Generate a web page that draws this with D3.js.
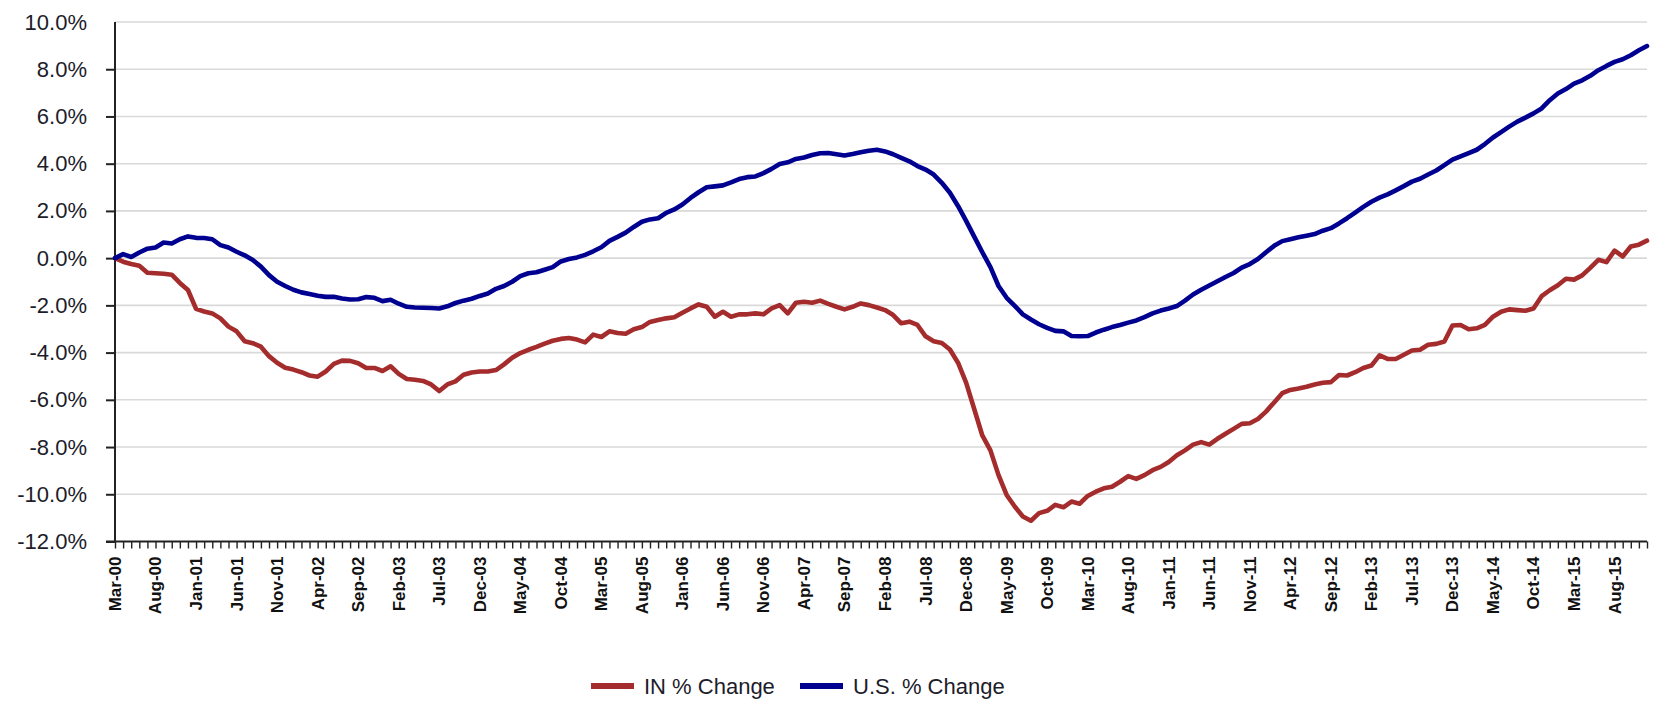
<!DOCTYPE html>
<html>
<head>
<meta charset="utf-8">
<script src="https://cdn.jsdelivr.net/npm/d3@7"></script>
<style>
  html, body { margin: 0; padding: 0; background: #fff; }
  svg { display: block; }
  text { font-family: "Liberation Sans", Arial, sans-serif; }
</style>
</head>
<body>
<svg id="chart" width="1656" height="703"></svg>
<script>
// ---- Data ----
const startMonth = new Date(2000, 2, 1);   // Mar-00
const endMonth = new Date(2016, 0, 1);     // exclusive -> last point Dec-15
const months = d3.timeMonth.range(startMonth, endMonth);

const tickLabels = ["Mar-00","Aug-00","Jan-01","Jun-01","Nov-01","Apr-02","Sep-02","Feb-03","Jul-03","Dec-03",
  "May-04","Oct-04","Mar-05","Aug-05","Jan-06","Jun-06","Nov-06","Apr-07","Sep-07","Feb-08",
  "Jul-08","Dec-08","May-09","Oct-09","Mar-10","Aug-10","Jan-11","Jun-11","Nov-11","Apr-12",
  "Sep-12","Feb-13","Jul-13","Dec-13","May-14","Oct-14","Mar-15","Aug-15"];

const yTicks = [-12, -10, -8, -6, -4, -2, 0, 2, 4, 6, 8, 10];

const seriesNames = ["IN % Change", "U.S. % Change"];

const inChange = [
  0.00,-0.15,-0.25,-0.32,-0.62,-0.64,-0.66,-0.70,-1.05,-1.35,
  -2.15,-2.26,-2.34,-2.55,-2.90,-3.10,-3.52,-3.60,-3.75,-4.15,
  -4.43,-4.64,-4.72,-4.83,-4.97,-5.02,-4.80,-4.48,-4.34,-4.35,
  -4.45,-4.65,-4.65,-4.78,-4.58,-4.90,-5.12,-5.15,-5.20,-5.35,
  -5.63,-5.35,-5.22,-4.94,-4.84,-4.80,-4.80,-4.74,-4.50,-4.22,
  -4.02,-3.88,-3.76,-3.62,-3.50,-3.42,-3.38,-3.45,-3.57,-3.24,
  -3.34,-3.10,-3.17,-3.20,-3.01,-2.92,-2.70,-2.62,-2.55,-2.50,
  -2.31,-2.13,-1.96,-2.06,-2.48,-2.27,-2.48,-2.38,-2.38,-2.34,
  -2.38,-2.13,-1.99,-2.34,-1.89,-1.85,-1.89,-1.80,-1.94,-2.06,
  -2.17,-2.06,-1.92,-1.99,-2.09,-2.20,-2.41,-2.76,-2.69,-2.83,
  -3.31,-3.52,-3.59,-3.87,-4.43,-5.27,-6.39,-7.51,-8.14,-9.19,
  -10.03,-10.52,-10.94,-11.12,-10.80,-10.70,-10.45,-10.55,-10.31,-10.40,
  -10.07,-9.89,-9.75,-9.68,-9.47,-9.23,-9.35,-9.19,-8.98,-8.84,
  -8.63,-8.35,-8.14,-7.90,-7.79,-7.90,-7.65,-7.44,-7.23,-7.02,
  -6.99,-6.81,-6.50,-6.11,-5.72,-5.58,-5.52,-5.45,-5.35,-5.28,
  -5.25,-4.95,-4.97,-4.83,-4.65,-4.55,-4.12,-4.27,-4.27,-4.09,
  -3.91,-3.88,-3.67,-3.63,-3.53,-2.85,-2.83,-3.01,-2.97,-2.83,
  -2.48,-2.27,-2.17,-2.20,-2.23,-2.13,-1.61,-1.36,-1.15,-0.87,
  -0.91,-0.73,-0.41,-0.07,-0.17,0.32,0.07,0.49,0.57,0.74
];

const usChange = [
  0.00,0.17,0.05,0.24,0.40,0.45,0.66,0.62,0.80,0.92,
  0.86,0.85,0.80,0.55,0.45,0.27,0.12,-0.08,-0.36,-0.72,
  -1.00,-1.18,-1.34,-1.45,-1.52,-1.59,-1.64,-1.64,-1.71,-1.75,
  -1.74,-1.65,-1.68,-1.82,-1.76,-1.93,-2.06,-2.09,-2.10,-2.11,
  -2.13,-2.04,-1.90,-1.80,-1.72,-1.60,-1.50,-1.30,-1.18,-1.00,
  -0.76,-0.64,-0.60,-0.49,-0.38,-0.14,-0.04,0.03,0.14,0.29,
  0.46,0.73,0.90,1.08,1.32,1.54,1.64,1.69,1.92,2.06,
  2.27,2.55,2.79,3.00,3.04,3.08,3.21,3.35,3.43,3.46,
  3.60,3.78,3.99,4.06,4.20,4.26,4.37,4.44,4.45,4.40,
  4.35,4.41,4.48,4.55,4.59,4.52,4.40,4.25,4.10,3.90,
  3.75,3.54,3.19,2.77,2.21,1.58,0.91,0.25,-0.38,-1.18,
  -1.68,-2.02,-2.38,-2.60,-2.80,-2.95,-3.08,-3.10,-3.30,-3.31,
  -3.30,-3.15,-3.03,-2.92,-2.83,-2.73,-2.64,-2.50,-2.34,-2.22,
  -2.13,-2.03,-1.80,-1.54,-1.34,-1.16,-0.98,-0.80,-0.63,-0.40,
  -0.25,-0.04,0.25,0.52,0.72,0.80,0.88,0.95,1.02,1.16,
  1.27,1.47,1.69,1.93,2.17,2.39,2.56,2.70,2.87,3.05,
  3.24,3.36,3.54,3.71,3.94,4.17,4.31,4.45,4.59,4.83,
  5.11,5.34,5.57,5.78,5.95,6.13,6.34,6.69,6.97,7.16,
  7.39,7.53,7.72,7.96,8.14,8.31,8.42,8.59,8.80,8.98
];

const colors = ["#a52c2c", "#000090"];

// ---- Layout ----
const svg = d3.select("#chart");
const plot = { left: 115, right: 1647, top: 22, bottom: 541.5 };

const x = d3.scaleLinear().domain([0, months.length - 1]).range([plot.left, plot.right]);
const y = d3.scaleLinear().domain([-12, 10]).range([plot.bottom, plot.top]);

// gridlines
svg.append("g")
  .selectAll("line")
  .data(yTicks.filter(d => d > -12))
  .join("line")
  .attr("x1", plot.left).attr("x2", plot.right)
  .attr("y1", d => y(d)).attr("y2", d => y(d))
  .attr("stroke", "#d9d9d9").attr("stroke-width", 1.6);

// y axis
const yAxis = svg.append("g")
  .attr("transform", `translate(${plot.left},0)`)
  .call(d3.axisLeft(y).tickValues(yTicks).tickSize(9).tickPadding(19)
    .tickFormat(d => d.toFixed(1) + "%"));
yAxis.select(".domain").attr("stroke", "#222").attr("stroke-width", 2)
  .attr("d", `M0,${plot.bottom}V${plot.top}`);
yAxis.selectAll(".tick line").attr("stroke", "#222").attr("stroke-width", 2)
  .attr("opacity", d => d === 10 ? 0 : 1);
yAxis.selectAll(".tick text").attr("fill", "#1c1c2a")
  .style("font-size", "22px").style("font-family", "'Liberation Sans', Arial, sans-serif");

// x axis (monthly ticks)
const xAxis = svg.append("g")
  .attr("transform", `translate(0,${plot.bottom})`)
  .call(d3.axisBottom(x).tickValues(d3.range(months.length)).tickSize(7).tickFormat(""));
xAxis.select(".domain").attr("stroke", "#222").attr("stroke-width", 2)
  .attr("d", `M${plot.left - 9},0H${plot.right}`);
xAxis.selectAll(".tick line").attr("stroke", "#222").attr("stroke-width", 1.4);

// x labels every 5 months
svg.append("g")
  .selectAll("text")
  .data(tickLabels)
  .join("text")
  .attr("transform", (d, i) => `translate(${x(i * 5)},${plot.bottom + 15}) rotate(-90)`)
  .attr("text-anchor", "end")
  .attr("dy", "0.35em")
  .attr("fill", "#111")
  .style("font-size", "17px")
  .style("font-weight", "bold")
  .text(d => d);

// lines
const line = d3.line().x((d, i) => x(i)).y(d => y(d)).curve(d3.curveLinear);
[inChange, usChange].forEach((s, k) => {
  svg.append("path")
    .datum(s)
    .attr("d", line)
    .attr("fill", "none")
    .attr("stroke", colors[k])
    .attr("stroke-width", 4.6)
    .attr("stroke-linejoin", "round")
    .attr("stroke-linecap", "round");
});

// legend
const legendY = 686;
const legendItems = [
  { name: seriesNames[0], color: colors[0], x: 591 },
  { name: seriesNames[1], color: colors[1], x: 800 }
];
const lg = svg.append("g");
legendItems.forEach(it => {
  lg.append("line")
    .attr("x1", it.x).attr("x2", it.x + 43)
    .attr("y1", legendY).attr("y2", legendY)
    .attr("stroke", it.color).attr("stroke-width", 6);
  lg.append("text")
    .attr("x", it.x + 53).attr("y", legendY)
    .attr("dy", "0.36em")
    .attr("fill", "#1c1c2a")
    .style("font-size", "22px")
    .text(it.name);
});
</script>
</body>
</html>
